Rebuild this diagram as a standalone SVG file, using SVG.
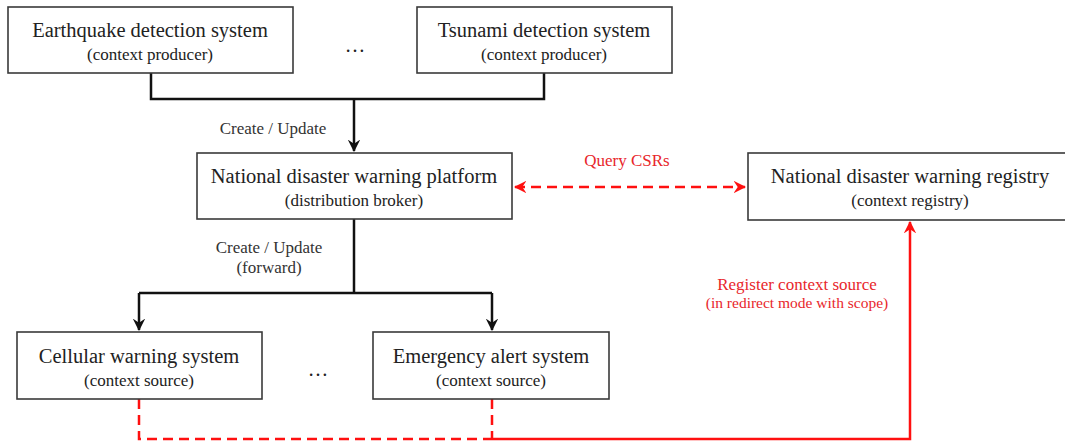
<svg xmlns="http://www.w3.org/2000/svg" width="1065" height="442" viewBox="0 0 1065 442">
<style>
.box{fill:#fff;stroke:#3a3a3a;stroke-width:1.6}
.t{font-family:"Liberation Serif","Times New Roman",serif;font-size:20.5px;fill:#222;text-anchor:middle}
.s{font-family:"Liberation Serif","Times New Roman",serif;font-size:17px;fill:#222;text-anchor:middle}
.lbl{font-family:"Liberation Serif","Times New Roman",serif;font-size:17px;fill:#333;text-anchor:middle}
.rl{font-family:"Liberation Serif","Times New Roman",serif;font-size:17px;fill:#e8262b;text-anchor:middle}
.k{fill:none;stroke:#111;stroke-width:2.5}
.rd{fill:none;stroke:#ff1010;stroke-width:2.5;stroke-dasharray:10 6}
.rs{fill:none;stroke:#ff1010;stroke-width:2.5}
</style>
<defs>
<marker id="ak" viewBox="0 0 12 12" refX="11" refY="6" markerWidth="5" markerHeight="5" orient="auto" markerUnits="strokeWidth">
<path d="M0,0 L12,6 L0,12 L4,6 z" fill="#111"/>
</marker>
<marker id="ar" viewBox="0 0 12 12" refX="11" refY="6" markerWidth="5" markerHeight="5" orient="auto-start-reverse" markerUnits="strokeWidth">
<path d="M0,0 L12,6 L0,12 L4,6 z" fill="#ff1010"/>
</marker>
</defs>
<rect width="1065" height="442" fill="#fff"/>
<g id="connectors">
<path class="k" d="M151,73 V99 H544 V73"/>
<path class="k" d="M354,99 V151" marker-end="url(#ak)"/>
<path class="k" d="M354,219 V293"/>
<path class="k" d="M139,293 H492"/>
<path class="k" d="M139,293 V330" marker-end="url(#ak)"/>
<path class="k" d="M492,293 V330" marker-end="url(#ak)"/>
<path class="rd" d="M515,187 H745" marker-start="url(#ar)" marker-end="url(#ar)"/>
<path class="rd" d="M139,399 V439 H492"/>
<path class="rd" d="M492,399 V439"/>
<path class="rs" d="M492,439 H910 V222" marker-end="url(#ar)"/>
<text class="lbl" x="273" y="134">Create / Update</text>
<text class="lbl" x="269" y="253">Create / Update</text>
<text class="lbl" x="269" y="273">(forward)</text>
<text class="rl" x="627" y="166">Query CSRs</text>
<text class="rl" x="797" y="290">Register context source</text>
<text class="rl" x="797" y="308" style="font-size:15.5px">(in redirect mode with scope)</text>
</g>
<g id="earthquake">
<rect class="box" x="8" y="7" width="285" height="66"/>
<text class="t" x="150" y="37">Earthquake detection system</text>
<text class="s" x="150" y="60">(context producer)</text>
</g>
<g id="dots-top"><text class="t" x="355" y="52">…</text></g>
<g id="tsunami">
<rect class="box" x="417" y="7" width="255" height="66"/>
<text class="t" x="544" y="37">Tsunami detection system</text>
<text class="s" x="544" y="60">(context producer)</text>
</g>
<g id="platform">
<rect class="box" x="197" y="153" width="315" height="66"/>
<text class="t" x="354" y="183">National disaster warning platform</text>
<text class="s" x="354" y="206">(distribution broker)</text>
</g>
<g id="registry">
<rect class="box" x="748" y="153" width="330" height="67"/>
<text class="t" x="910" y="183">National disaster warning registry</text>
<text class="s" x="910" y="206">(context registry)</text>
</g>
<g id="cellular">
<rect class="box" x="17" y="332" width="245" height="67"/>
<text class="t" x="139" y="363">Cellular warning system</text>
<text class="s" x="139" y="386">(context source)</text>
</g>
<g id="dots-bottom"><text class="t" x="318" y="376">…</text></g>
<g id="emergency">
<rect class="box" x="373" y="332" width="236" height="67"/>
<text class="t" x="491" y="363">Emergency alert system</text>
<text class="s" x="491" y="386">(context source)</text>
</g>
</svg>
